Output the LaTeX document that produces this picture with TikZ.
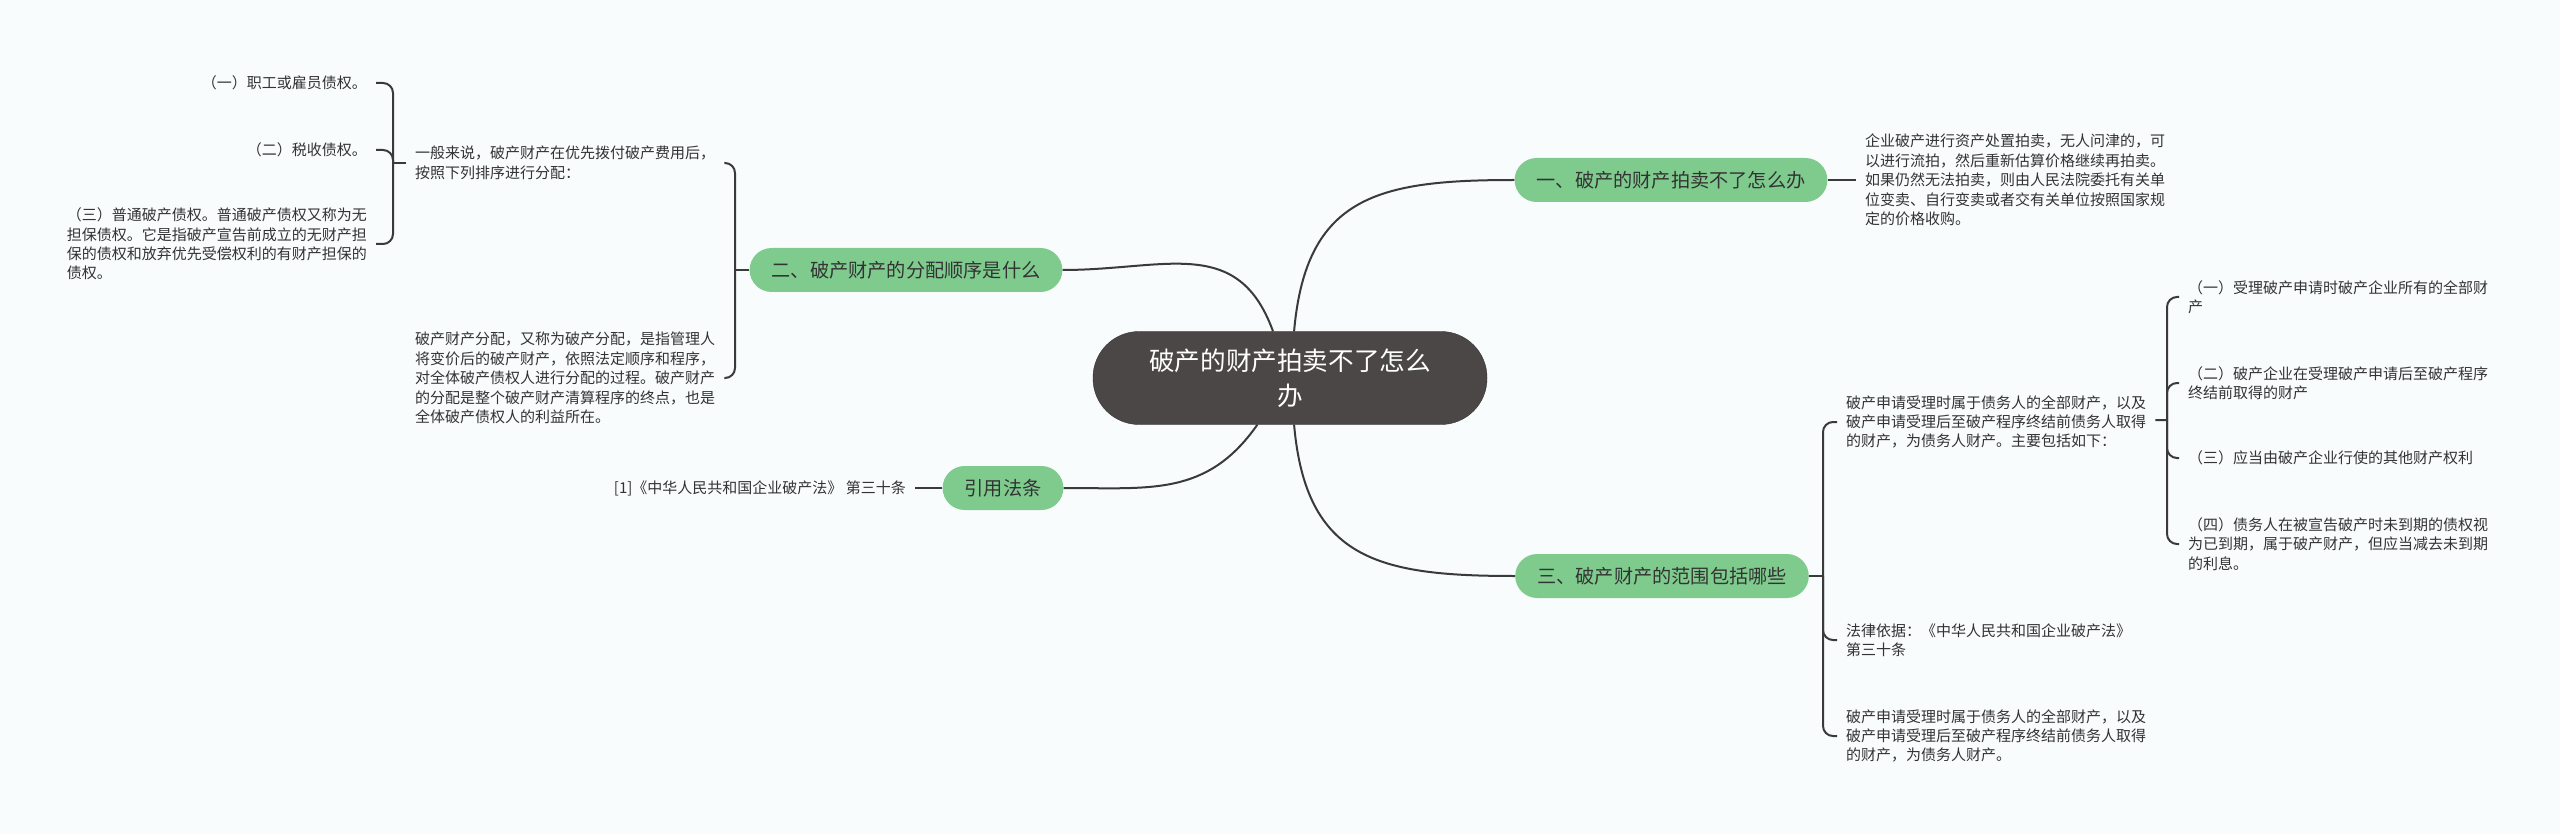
\documentclass[tikz,border=0pt]{standalone}
\usepackage{fontspec}
\newfontfamily\cjk{Noto Sans CJK SC}
\definecolor{fondo}{HTML}{F9FCFC}
\definecolor{verde}{HTML}{7FCB8E}
\definecolor{oscuro}{HTML}{4C4747}
\definecolor{tinta}{HTML}{333333}
\definecolor{linea}{HTML}{3A3A3A}

\begin{document}
\begin{tikzpicture}[x=1pt,y=-1pt,
    centro/.style={fill=oscuro, draw=oscuro!70!black, rounded corners=46pt, minimum width=394pt, minimum height=93pt, text=white, align=center, font=\cjk\fontsize{25.6}{35}\selectfont},
    rama/.style={fill=verde, rounded corners=22pt, minimum height=44pt, inner xsep=22pt, inner ysep=0pt, text=tinta, font=\cjk\fontsize{19.2}{24}\selectfont},
    hoja/.style={inner xsep=9pt, inner ysep=0pt, text=tinta, align=left, font=\cjk\fontsize{15}{19.4}\selectfont},
    conector/.style={draw=linea, line width=2pt},
    llave/.style={conector, rounded corners=10pt}]
    \useasboundingbox (0,0) rectangle (2560,834);
    \fill[fondo] (0,0) rectangle (2560,834);

    % Dibuja el tema central y las ramas
    \node[centro] (centro) at (1290,378) {破产的财产拍卖不了怎么\\办};
    \node[rama] (rama1) at (1671,180) {一、破产的财产拍卖不了怎么办};
    \node[rama] (rama2) at (906,270) {二、破产财产的分配顺序是什么};
    \node[rama] (rama3) at (1003,488) {引用法条};
    \node[rama] (rama4) at (1662,576) {三、破产财产的范围包括哪些};

    % Dibuja las hojas
    \node[hoja, anchor=west] (hoja1) at (1856,180) {企业破产进行资产处置拍卖，无人问津的，可\\以进行流拍，然后重新估算价格继续再拍卖。\\如果仍然无法拍卖，则由人民法院委托有关单\\位变卖、自行变卖或者交有关单位按照国家规\\定的价格收购。};
    \node[hoja, anchor=west] (orden) at (406,163) {一般来说，破产财产在优先拨付破产费用后，\\按照下列排序进行分配：};
    \node[hoja, anchor=west] (reparto) at (406,378) {破产财产分配，又称为破产分配，是指管理人\\将变价后的破产财产，依照法定顺序和程序，\\对全体破产债权人进行分配的过程。破产财产\\的分配是整个破产财产清算程序的终点，也是\\全体破产债权人的利益所在。};
    \node[hoja, anchor=east] (orden1) at (376,83) {（一）职工或雇员债权。};
    \node[hoja, anchor=east] (orden2) at (376,150) {（二）税收债权。};
    \node[hoja, anchor=east] (orden3) at (376,244) {（三）普通破产债权。普通破产债权又称为无\\担保债权。它是指破产宣告前成立的无财产担\\保的债权和放弃优先受偿权利的有财产担保的\\债权。};
    \node[hoja, anchor=east] (cita) at (915,488) {[1]《中华人民共和国企业破产法》 第三十条};
    \node[hoja, anchor=west] (bienes) at (1837,422) {破产申请受理时属于债务人的全部财产，以及\\破产申请受理后至破产程序终结前债务人取得\\的财产，为债务人财产。主要包括如下：};
    \node[hoja, anchor=west] (ley) at (1837,640) {法律依据：《中华人民共和国企业破产法》\\第三十条};
    \node[hoja, anchor=west] (deudor) at (1837,736) {破产申请受理时属于债务人的全部财产，以及\\破产申请受理后至破产程序终结前债务人取得\\的财产，为债务人财产。};
    \node[hoja, anchor=west] (bienes1) at (2179,297) {（一）受理破产申请时破产企业所有的全部财\\产};
    \node[hoja, anchor=west] (bienes2) at (2179,383) {（二）破产企业在受理破产申请后至破产程序\\终结前取得的财产};
    \node[hoja, anchor=west] (bienes3) at (2179,458) {（三）应当由破产企业行使的其他财产权利};
    \node[hoja, anchor=west] (bienes4) at (2179,544) {（四）债务人在被宣告破产时未到期的债权视\\为已到期，属于破产财产，但应当减去未到期\\的利息。};

    % Dibuja las curvas desde el centro
    \draw[conector] (centro) to[out=85, in=180, looseness=1.3] (rama1);
    \draw[conector] (centro) to[out=110, in=0, looseness=1.2] (rama2);
    \draw[conector] (centro) to[out=235, in=0, looseness=1.1] (rama3);
    \draw[conector] (centro) to[out=275, in=180, looseness=1.3] (rama4);

    % Dibuja las llaves
    \coordinate (j2) at (735,270);
    \coordinate (j2a) at (393,163);
    \coordinate (j4) at (1823,576);
    \coordinate (j4a) at (2167,420);
    \draw[conector] (rama1) -- (hoja1);
    \draw[conector] (rama3) -- (cita);
    \draw[conector] (rama2) -- (j2);
    \draw[llave] (j2) |- (orden);
    \draw[llave] (j2) |- (reparto);
    \draw[conector] (orden) -- (j2a);
    \draw[llave] (j2a) |- (orden1);
    \draw[llave] (j2a) |- (orden2);
    \draw[llave] (j2a) |- (orden3);
    \draw[conector] (rama4) -- (j4);
    \draw[llave] (j4) |- (bienes);
    \draw[llave] (j4) |- (ley);
    \draw[llave] (j4) |- (deudor);
    \draw[conector] (bienes) -- (j4a);
    \draw[llave] (j4a) |- (bienes1);
    \draw[llave] (j4a) |- (bienes2);
    \draw[llave] (j4a) |- (bienes3);
    \draw[llave] (j4a) |- (bienes4);
\end{tikzpicture}
\end{document}
